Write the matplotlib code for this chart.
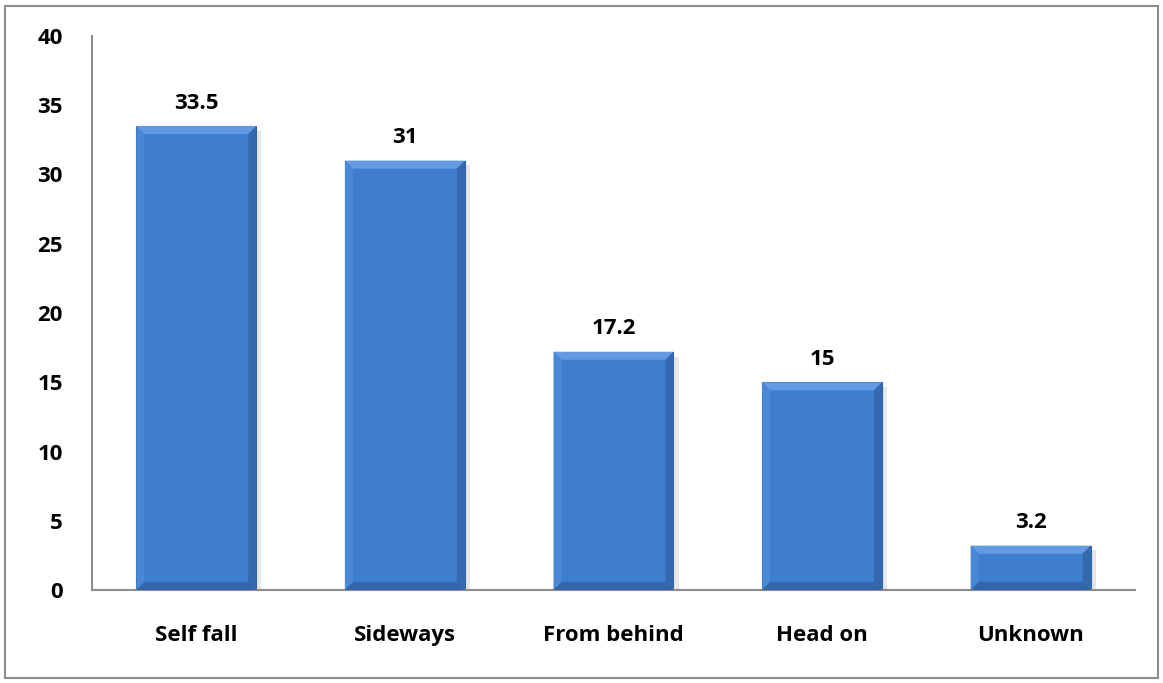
import matplotlib.pyplot as plt
from matplotlib.patches import Polygon, Rectangle

categories = ['Self fall', 'Sideways', 'From behind', 'Head on', 'Unknown']
values = [33.5, 31, 17.2, 15, 3.2]
yticks = [0, 5, 10, 15, 20, 25, 30, 35, 40]

plt.rcParams['font.family'] = ['Open Sans', 'DejaVu Sans']
plt.rcParams['font.weight'] = 'bold'

fig = plt.figure(figsize=(11.63, 6.83), dpi=100)
ax = fig.add_axes([92 / 1163, 93 / 683, 1043 / 1163, 554 / 683])

# outer frame around the whole chart
fig.patches.append(Rectangle((5 / 1163, 5 / 683), 1153 / 1163, 672 / 683,
                             transform=fig.transFigure, fill=False,
                             edgecolor='#8c8c8c', linewidth=1.5))

width = 0.575
x = list(range(len(categories)))
ax.set_xlim(-0.5, len(categories) - 0.5)
ax.set_ylim(0, 40)

# bevel depth in data units (about 8 px)
bx = 8 / (1043 / len(categories))
by = 8 / (554 / 40)

for xi, v in zip(x, values):
    l, r = xi - width / 2, xi + width / 2
    # soft shadow to the right
    ax.add_patch(Rectangle((r, 0), 0.025, v - by * 0.6, facecolor='#e6e6e6',
                           edgecolor='none', zorder=1))
    ax.add_patch(Rectangle((l, 0), width, v, facecolor='#3f7ecf',
                           edgecolor='#2f62a3', linewidth=0.8, zorder=2))
    d = min(by, v / 2)
    # top, left, right and bottom bevel faces
    ax.add_patch(Polygon([(l, v), (r, v), (r - bx, v - d), (l + bx, v - d)],
                         facecolor='#649ae2', edgecolor='none', zorder=3))
    ax.add_patch(Polygon([(l, 0), (l, v), (l + bx, v - d), (l + bx, d)],
                         facecolor='#4888d7', edgecolor='none', zorder=3))
    ax.add_patch(Polygon([(r, 0), (r, v), (r - bx, v - d), (r - bx, d)],
                         facecolor='#3569ae', edgecolor='none', zorder=3))
    ax.add_patch(Polygon([(l, 0), (r, 0), (r - bx, d), (l + bx, d)],
                         facecolor='#3366a8', edgecolor='none', zorder=3))
    ax.annotate(f'{v:g}', (xi, v), xytext=(0, 9), textcoords='offset points',
                ha='center', va='bottom', fontsize=16, fontweight='bold')

ax.set_xticks(x)
ax.set_xticklabels(categories, fontsize=16, fontweight='bold')
ax.set_yticks(yticks)
ax.set_yticklabels([str(t) for t in yticks], fontsize=16, fontweight='bold')
ax.tick_params(axis='both', length=0)
ax.tick_params(axis='x', pad=25)
ax.tick_params(axis='y', pad=21)

for s in ['top', 'right']:
    ax.spines[s].set_visible(False)
for s in ['left', 'bottom']:
    ax.spines[s].set_color('#8c8c8c')
    ax.spines[s].set_linewidth(1.5)

fig.savefig('out.png', dpi=100)
